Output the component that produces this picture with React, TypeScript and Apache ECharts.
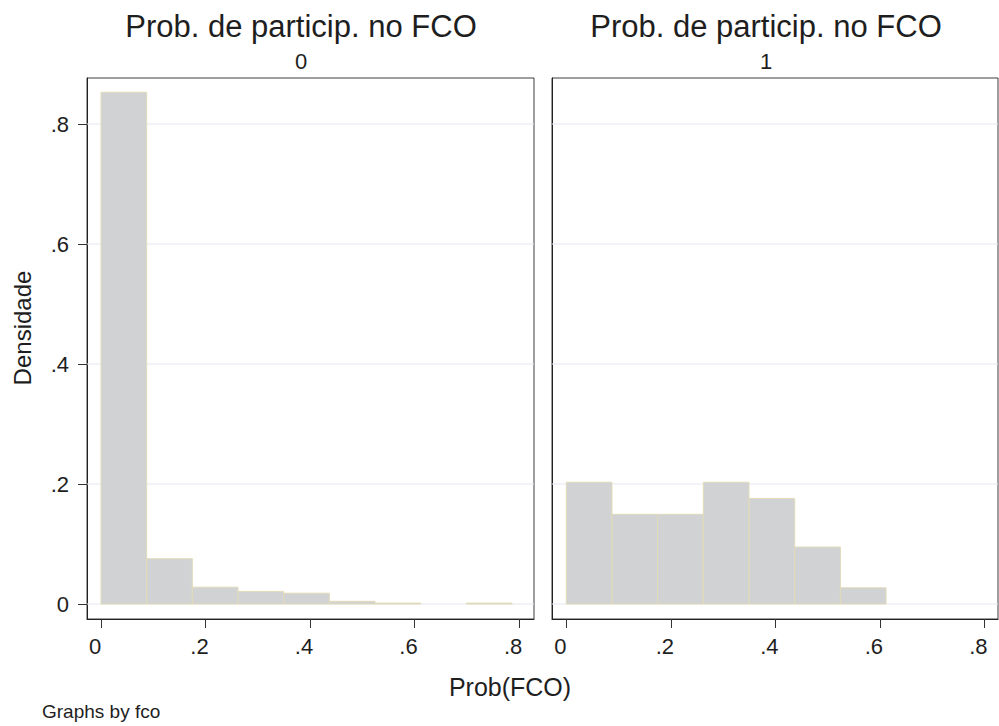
import React, { useEffect, useRef } from "react";
import * as echarts from "echarts";

// ---- data ----
const binStart = 0;
const binWidth = 0.0874;
const fracFco0 = [0.853, 0.0755, 0.028, 0.021, 0.018, 0.0045, 0.0015, 0, 0.0015];
const fracFco1 = [0.203, 0.1495, 0.1495, 0.203, 0.176, 0.095, 0.027, 0, 0];
const xTicks = [0, 0.2, 0.4, 0.6, 0.8];
const yTicks = [0, 0.2, 0.4, 0.6, 0.8];
const panelLabels = ["0", "1"];
const panelTitle = "Prob. de particip. no FCO";
const xTitle = "Prob(FCO)";
const yTitle = "Densidade";
const note = "Graphs by fco";

const FONT = "'Liberation Sans', Arial, Helvetica, sans-serif";
const TEXT = "#1e1e1e";
const BAR_FILL = "#d0d2d4";
const BAR_EDGE = "#e2dbb8";
const GRID_LINE = "#e4e7ef";

const fmt = (v: number) => (v === 0 ? "0" : String(Number(v.toFixed(2))).replace(/^0/, ""));

export default function App() {
  const ref = useRef<HTMLDivElement>(null);

  useEffect(() => {
    if (!ref.current) return;
    const chart = echarts.init(ref.current, undefined, { renderer: "svg" });

    const panels = [fracFco0, fracFco1];
    const grids = [
      { left: 87, top: 78, width: 447, height: 541 },
      { left: 552, top: 78, width: 446, height: 541 },
    ];
    const xRanges = [
      [-0.0268, 0.8286],
      [-0.0274, 0.826],
    ];

    const xAxes = panels.map((_, i) => ({
      type: "value",
      gridIndex: i,
      min: xRanges[i][0],
      max: xRanges[i][1],
      axisLine: { show: true, onZero: false, lineStyle: { color: "#222", width: 1 } },
      axisTick: {
        show: true,
        length: 9,
        customValues: xTicks,
        lineStyle: { color: "#333", width: 1 },
      },
      axisLabel: {
        show: true,
        customValues: xTicks,
        formatter: fmt,
        fontFamily: FONT,
        fontSize: 22,
        color: TEXT,
        margin: 16,
        padding: [0, 12, 0, 0],
      },
      splitLine: { show: false },
    }));

    const yAxes = panels.map((_, i) => ({
      type: "value",
      gridIndex: i,
      min: -0.025,
      max: 0.8767,
      axisLine: { show: true, onZero: false, lineStyle: { color: "#222", width: 1 } },
      axisTick: {
        show: i === 0,
        length: 9,
        customValues: yTicks,
        lineStyle: { color: "#333", width: 1 },
      },
      axisLabel: {
        show: i === 0,
        customValues: yTicks,
        formatter: fmt,
        fontFamily: FONT,
        fontSize: 22,
        color: TEXT,
        margin: 18,
      },
      splitLine: { show: false },
    }));

    const series: any[] = [];
    panels.forEach((fr, i) => {
      series.push({
        type: "custom",
        xAxisIndex: i,
        yAxisIndex: i,
        z: 1,
        silent: true,
        data: yTicks.map((v) => [0, v]),
        encode: { x: 0, y: 1 },
        renderItem: (params: any, api: any) => {
          const v = api.value(1);
          const cs = params.coordSys;
          const y = api.coord([0, v])[1];
          return {
            type: "line",
            shape: { x1: cs.x, y1: y, x2: cs.x + cs.width, y2: y },
            style: { stroke: GRID_LINE, lineWidth: 1.2 },
          };
        },
      });
      series.push({
        type: "custom",
        xAxisIndex: i,
        yAxisIndex: i,
        z: 2,
        silent: true,
        data: fr.map((f, k) => [binStart + k * binWidth, binStart + (k + 1) * binWidth, f]),
        encode: { x: [0, 1], y: 2 },
        renderItem: (_params: any, api: any) => {
          const f = api.value(2);
          if (!f) return null;
          const p0 = api.coord([api.value(0), f]);
          const p1 = api.coord([api.value(1), 0]);
          return {
            type: "rect",
            shape: { x: p0[0], y: p0[1], width: p1[0] - p0[0], height: p1[1] - p0[1] },
            style: { fill: BAR_FILL, stroke: BAR_EDGE, lineWidth: 1 },
          };
        },
      });
    });

    const titleCenters = [301, 766];
    const graphics: any[] = [];
    titleCenters.forEach((cx, i) => {
      graphics.push({
        type: "text",
        x: cx,
        y: 26,
        style: {
          text: panelTitle,
          fontFamily: FONT,
          fontSize: 31,
          fill: TEXT,
          align: "center",
          verticalAlign: "middle",
        },
      });
      graphics.push({
        type: "text",
        x: cx,
        y: 61,
        style: {
          text: panelLabels[i],
          fontFamily: FONT,
          fontSize: 22,
          fill: TEXT,
          align: "center",
          verticalAlign: "middle",
        },
      });
    });
    graphics.push({
      type: "text",
      x: 22,
      y: 328,
      rotation: Math.PI / 2,
      style: {
        text: yTitle,
        fontFamily: FONT,
        fontSize: 24,
        fill: TEXT,
        align: "center",
        verticalAlign: "middle",
      },
    });
    graphics.push({
      type: "text",
      x: 510,
      y: 687,
      style: {
        text: xTitle,
        fontFamily: FONT,
        fontSize: 25,
        fill: TEXT,
        align: "center",
        verticalAlign: "middle",
      },
    });
    graphics.push({
      type: "text",
      x: 42,
      y: 711,
      style: {
        text: note,
        fontFamily: FONT,
        fontSize: 19,
        fill: TEXT,
        align: "left",
        verticalAlign: "middle",
      },
    });

    chart.setOption({
      animation: false,
      backgroundColor: "#ffffff",
      grid: grids.map((g) => ({
        ...g,
        show: true,
        borderColor: "#3c3c3c",
        borderWidth: 1,
        backgroundColor: "transparent",
        containLabel: false,
      })),
      xAxis: xAxes,
      yAxis: yAxes,
      series,
      graphic: graphics,
    });

    return () => chart.dispose();
  }, []);

  return (
    <div
      ref={ref}
      style={{ position: "fixed", left: 0, top: 0, width: 999, height: 726 }}
    />
  );
}
